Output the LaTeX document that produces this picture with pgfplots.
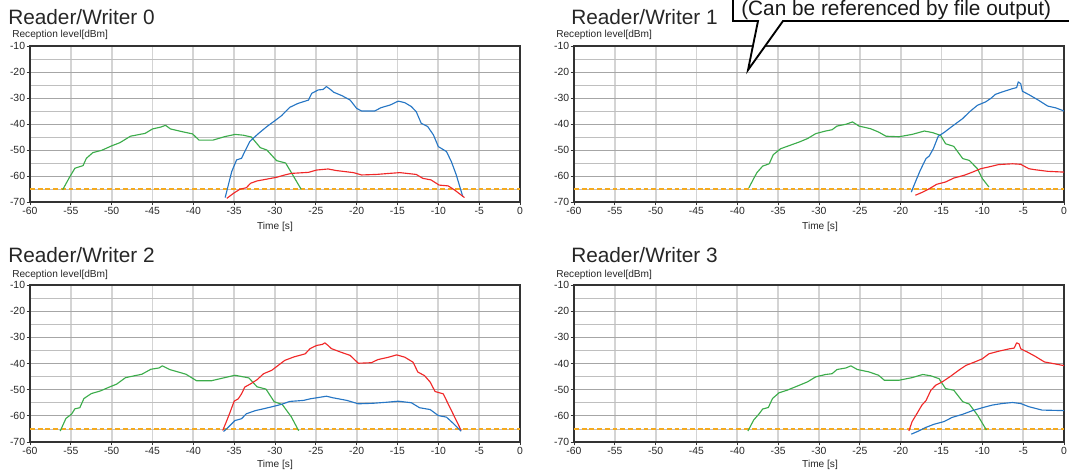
\documentclass[border=0pt]{standalone}
\usepackage{fontspec}
\setmainfont{Liberation Sans}
\usepackage{pgfplots}
\pgfplotsset{compat=1.18}
\definecolor{rwg}{RGB}{60,172,75}
\definecolor{rwb}{RGB}{38,118,196}
\definecolor{rwr}{RGB}{240,40,40}
\definecolor{rwo}{RGB}{245,170,30}
\pgfplotsset{rwaxis/.style={
  scale only axis, width=367.5pt, height=117pt,
  xmin=-60,xmax=0,ymin=-70,ymax=-10,
  xtick={-60,-55,...,0}, ytick={-70,-60,...,-10}, minor ytick={-65,-55,...,-15},
  grid=both,
  major x grid style={black!17, line width=1.3pt},
  major y grid style={black!35, line width=0.6pt},
  minor y grid style={black!25, line width=0.6pt},
  axis line style={black!80, line width=0.8pt},
  tick pos=left, tick align=outside,
  major tick length=2.5pt, minor tick length=0pt,
  tick style={black!80, line width=0.6pt},
  ticklabel style={font=\fontsize{7.8}{8}\selectfont, text=black!85, inner sep=1pt},
  /pgf/number format/assume math mode=true,
  every axis plot/.append style={line width=0.85pt, line join=round},
}}
\newcommand{\thr}{\addplot[rwo, line width=1.8pt, dash pattern=on 3.6pt off 2.2pt] coordinates {(-60,-65) (0,-65)};}
\begin{document}
\begin{tikzpicture}
\useasboundingbox (0,0) rectangle (801.75pt,354pt);
% Reader/Writer 0
\begin{axis}[rwaxis, at={(22.5pt,202.5pt)}, anchor=south west]
\thr
\addplot[rwg] coordinates {(-56.0,-65.3) (-55.2,-60.7) (-54.5,-57.0) (-53.5,-56.0) (-53.1,-53.2) (-52.3,-51.0) (-51.2,-50.1) (-50.0,-48.4) (-49.0,-47.2) (-47.7,-44.7) (-45.9,-43.6) (-45.0,-41.9) (-44.0,-41.2) (-43.4,-40.5) (-42.8,-41.9) (-41.3,-43.0) (-40.1,-43.8) (-39.3,-46.2) (-37.6,-46.2) (-36.2,-44.9) (-34.9,-44.0) (-33.9,-44.3) (-32.9,-45.0) (-31.8,-49.1) (-31.0,-50.0) (-29.8,-54.1) (-28.7,-55.0) (-27.9,-59.2) (-26.8,-65.1)};
\addplot[rwb] coordinates {(-36.1,-68.3) (-35.3,-58.3) (-34.7,-53.8) (-34.1,-53.2) (-33.7,-50.6) (-33.1,-46.8) (-32.6,-45.3) (-32.0,-43.6) (-31.0,-41.0) (-30.0,-38.7) (-29.2,-36.8) (-28.2,-33.6) (-27.2,-32.1) (-25.9,-30.8) (-25.5,-28.2) (-24.7,-26.9) (-24.1,-26.7) (-23.7,-25.6) (-23.3,-26.5) (-22.8,-27.8) (-21.8,-29.1) (-20.8,-30.8) (-20.0,-34.0) (-19.4,-35.0) (-17.8,-35.0) (-17.0,-33.7) (-15.9,-32.7) (-14.9,-31.2) (-14.1,-31.8) (-13.3,-33.3) (-12.7,-35.3) (-12.1,-39.7) (-11.3,-41.0) (-10.6,-44.2) (-10.0,-48.7) (-9.0,-50.6) (-8.4,-54.5) (-7.8,-59.6) (-7.0,-68.0)};
\addplot[rwr] coordinates {(-35.9,-68.6) (-35.1,-66.7) (-34.3,-65.1) (-33.5,-64.5) (-33.0,-62.8) (-32.2,-61.9) (-31.0,-61.2) (-29.8,-60.5) (-28.8,-59.6) (-28.0,-59.0) (-25.9,-58.6) (-24.9,-57.7) (-23.5,-57.3) (-22.5,-57.9) (-20.4,-58.7) (-19.4,-59.6) (-17.6,-59.4) (-16.0,-59.0) (-14.7,-58.7) (-12.7,-59.4) (-11.9,-60.9) (-10.9,-61.5) (-9.9,-63.5) (-8.8,-63.8) (-8.0,-65.4) (-6.8,-68.3)};
\end{axis}
% Reader/Writer 1
\begin{axis}[rwaxis, at={(430.5pt,202.5pt)}, anchor=south west]
\thr
\addplot[rwg] coordinates {(-38.6,-64.6) (-38.0,-61.0) (-37.6,-58.7) (-36.9,-56.2) (-36.1,-55.3) (-35.6,-51.8) (-34.7,-49.5) (-33.9,-48.6) (-32.4,-46.9) (-31.4,-45.6) (-30.4,-43.7) (-29.2,-42.7) (-28.4,-42.2) (-27.8,-40.8) (-26.7,-40.1) (-25.9,-39.2) (-25.1,-40.8) (-23.7,-41.8) (-22.7,-43.1) (-21.8,-44.7) (-20.2,-44.9) (-18.6,-44.0) (-17.1,-42.7) (-16.1,-43.3) (-15.1,-44.4) (-14.5,-47.6) (-13.5,-48.6) (-12.4,-53.3) (-11.6,-54.0) (-10.6,-57.2) (-10.0,-61.0) (-9.2,-64.2)};
\addplot[rwb] coordinates {(-18.7,-66.2) (-18.2,-62.3) (-17.6,-57.8) (-16.9,-53.3) (-16.5,-52.3) (-16.0,-49.5) (-15.4,-44.7) (-14.7,-43.3) (-13.7,-40.9) (-12.4,-37.9) (-11.6,-35.4) (-10.6,-32.8) (-9.6,-31.5) (-8.9,-30.0) (-8.4,-28.6) (-7.6,-27.7) (-6.3,-26.4) (-5.8,-26.0) (-5.6,-23.8) (-5.3,-24.5) (-5.1,-27.4) (-4.3,-28.7) (-3.1,-30.9) (-2.0,-33.1) (-1.0,-33.8) (0.0,-35.0)};
\addplot[rwr] coordinates {(-18.2,-67.4) (-17.3,-66.2) (-16.5,-64.9) (-15.6,-63.2) (-14.5,-62.3) (-13.5,-60.8) (-12.2,-59.7) (-11.2,-58.5) (-10.2,-57.2) (-9.2,-56.5) (-8.0,-55.6) (-6.3,-55.3) (-5.3,-55.5) (-4.3,-57.2) (-3.5,-57.6) (-2.0,-58.2) (0.0,-58.5)};
\end{axis}
% Reader/Writer 2
\begin{axis}[rwaxis, height=117.75pt, at={(22.5pt,22.5pt)}, anchor=south west]
\thr
\addplot[rwg] coordinates {(-56.3,-65.8) (-55.6,-61.0) (-54.9,-59.3) (-54.5,-57.3) (-53.9,-56.9) (-53.4,-53.4) (-52.5,-51.5) (-51.4,-50.5) (-50.2,-48.9) (-49.4,-47.9) (-48.3,-45.4) (-46.3,-44.1) (-45.2,-42.2) (-44.2,-41.7) (-43.8,-40.9) (-42.9,-42.3) (-40.9,-44.1) (-39.6,-46.6) (-37.8,-46.6) (-36.3,-45.5) (-34.9,-44.5) (-33.2,-45.5) (-32.2,-48.9) (-31.1,-49.8) (-30.1,-54.6) (-29.1,-55.7) (-28.0,-60.4) (-27.1,-65.7)};
\addplot[rwr] coordinates {(-36.4,-65.6) (-35.9,-61.8) (-35.5,-58.6) (-35.0,-54.4) (-34.5,-53.5) (-34.1,-51.6) (-33.7,-49.0) (-33.0,-47.8) (-32.2,-46.2) (-31.4,-43.9) (-30.4,-42.6) (-29.6,-40.7) (-28.8,-38.8) (-27.7,-37.5) (-26.3,-36.3) (-25.7,-34.3) (-24.9,-33.1) (-24.2,-32.7) (-23.9,-32.1) (-23.5,-33.1) (-23.1,-34.3) (-22.0,-35.6) (-20.8,-36.9) (-19.8,-39.9) (-18.2,-39.7) (-17.4,-38.5) (-16.1,-37.6) (-15.1,-36.7) (-14.1,-37.6) (-13.1,-39.5) (-12.5,-43.3) (-11.7,-44.6) (-11.0,-47.1) (-10.4,-50.7) (-9.4,-51.6) (-8.8,-55.4) (-8.0,-60.5) (-7.2,-65.6)};
\addplot[rwb] coordinates {(-36.3,-66.0) (-35.7,-64.3) (-34.9,-61.8) (-34.1,-61.1) (-33.5,-59.2) (-32.4,-58.0) (-31.4,-57.3) (-30.2,-56.4) (-29.2,-55.6) (-28.2,-54.5) (-26.5,-54.1) (-25.7,-53.5) (-24.5,-52.9) (-23.7,-52.5) (-22.9,-53.1) (-21.2,-54.1) (-19.8,-55.4) (-18.0,-55.2) (-16.3,-54.8) (-14.9,-54.4) (-13.3,-55.0) (-12.3,-56.9) (-11.0,-57.6) (-10.0,-59.9) (-9.0,-60.5) (-8.2,-62.8) (-7.2,-65.9)};
\end{axis}
% Reader/Writer 3
\begin{axis}[rwaxis, height=117.75pt, at={(430.5pt,22.5pt)}, anchor=south west]
\thr
\addplot[rwg] coordinates {(-38.7,-65.8) (-38.0,-61.6) (-37.3,-59.1) (-36.9,-57.4) (-36.2,-56.8) (-35.7,-53.4) (-34.9,-51.2) (-33.9,-50.2) (-32.4,-48.3) (-31.4,-47.0) (-30.4,-45.1) (-29.2,-44.2) (-28.4,-43.9) (-27.8,-42.3) (-26.7,-41.7) (-26.1,-40.9) (-25.3,-42.3) (-23.9,-43.2) (-22.7,-44.5) (-22.0,-46.4) (-20.2,-46.4) (-18.6,-45.4) (-17.3,-44.2) (-16.3,-44.7) (-15.3,-45.8) (-14.5,-49.6) (-13.5,-50.2) (-12.4,-54.6) (-11.6,-55.5) (-10.6,-59.7) (-9.5,-65.4)};
\addplot[rwr] coordinates {(-19.0,-65.8) (-18.6,-62.2) (-18.0,-59.1) (-17.4,-55.9) (-16.9,-54.2) (-16.3,-50.2) (-15.7,-48.3) (-14.9,-47.0) (-13.9,-44.9) (-12.9,-42.6) (-12.0,-40.7) (-11.0,-39.5) (-10.0,-38.2) (-9.2,-36.3) (-8.0,-35.3) (-6.7,-34.4) (-6.1,-34.1) (-5.8,-32.1) (-5.5,-32.5) (-5.3,-34.4) (-4.5,-35.6) (-3.5,-37.3) (-2.4,-39.4) (-1.2,-40.1) (0.0,-40.8)};
\addplot[rwb] coordinates {(-18.7,-67.0) (-17.8,-65.8) (-16.9,-64.4) (-15.9,-63.2) (-14.7,-62.2) (-13.7,-60.6) (-12.4,-59.4) (-11.2,-58.0) (-10.0,-56.9) (-8.8,-55.9) (-7.6,-55.3) (-6.3,-54.9) (-5.3,-55.3) (-4.3,-56.5) (-2.7,-57.8) (0.0,-58.0)};
\end{axis}
% texts in pixel coordinates
\begin{scope}[x=0.75pt, y=-0.75pt, shift={(0pt,354pt)}]
\tikzset{ttl/.style={anchor=base west, inner sep=0pt, text=black!85, font=\fontsize{15.6}{18}\selectfont},
  ylab/.style={anchor=base west, inner sep=0pt, text=black!85, font=\fontsize{7.6}{9}\selectfont},
  xlab/.style={anchor=center, inner sep=0pt, text=black!85, font=\fontsize{7.6}{9}\selectfont}}
\node[ttl] at (8,25) {Reader/Writer 0};
\node[ttl] at (571,25) {Reader/Writer 1};
\node[ttl] at (8,262) {Reader/Writer 2};
\node[ttl] at (571,262) {Reader/Writer 3};
\node[ylab] at (12,38) {Reception level[dBm]};
\node[ylab] at (556,38) {Reception level[dBm]};
\node[ylab] at (12,277) {Reception level[dBm]};
\node[ylab] at (556,277) {Reception level[dBm]};
\node[xlab] at (275,227) {Time [s]};
\node[xlab] at (820,227) {Time [s]};
\node[xlab] at (275,465) {Time [s]};
\node[xlab] at (820,465) {Time [s]};
% callout
\draw[line width=1.4pt, fill=white, line join=miter] (733,-10) -- (733,21) -- (758,21) -- (748,70) -- (783,21) -- (1085,21) -- (1085,-10);
\node[anchor=base west, inner sep=0pt, text=black!90, font=\fontsize{15.6}{18}\selectfont] at (741,15.5) {(Can be referenced by file output)};
\end{scope}
\end{tikzpicture}
\end{document}
